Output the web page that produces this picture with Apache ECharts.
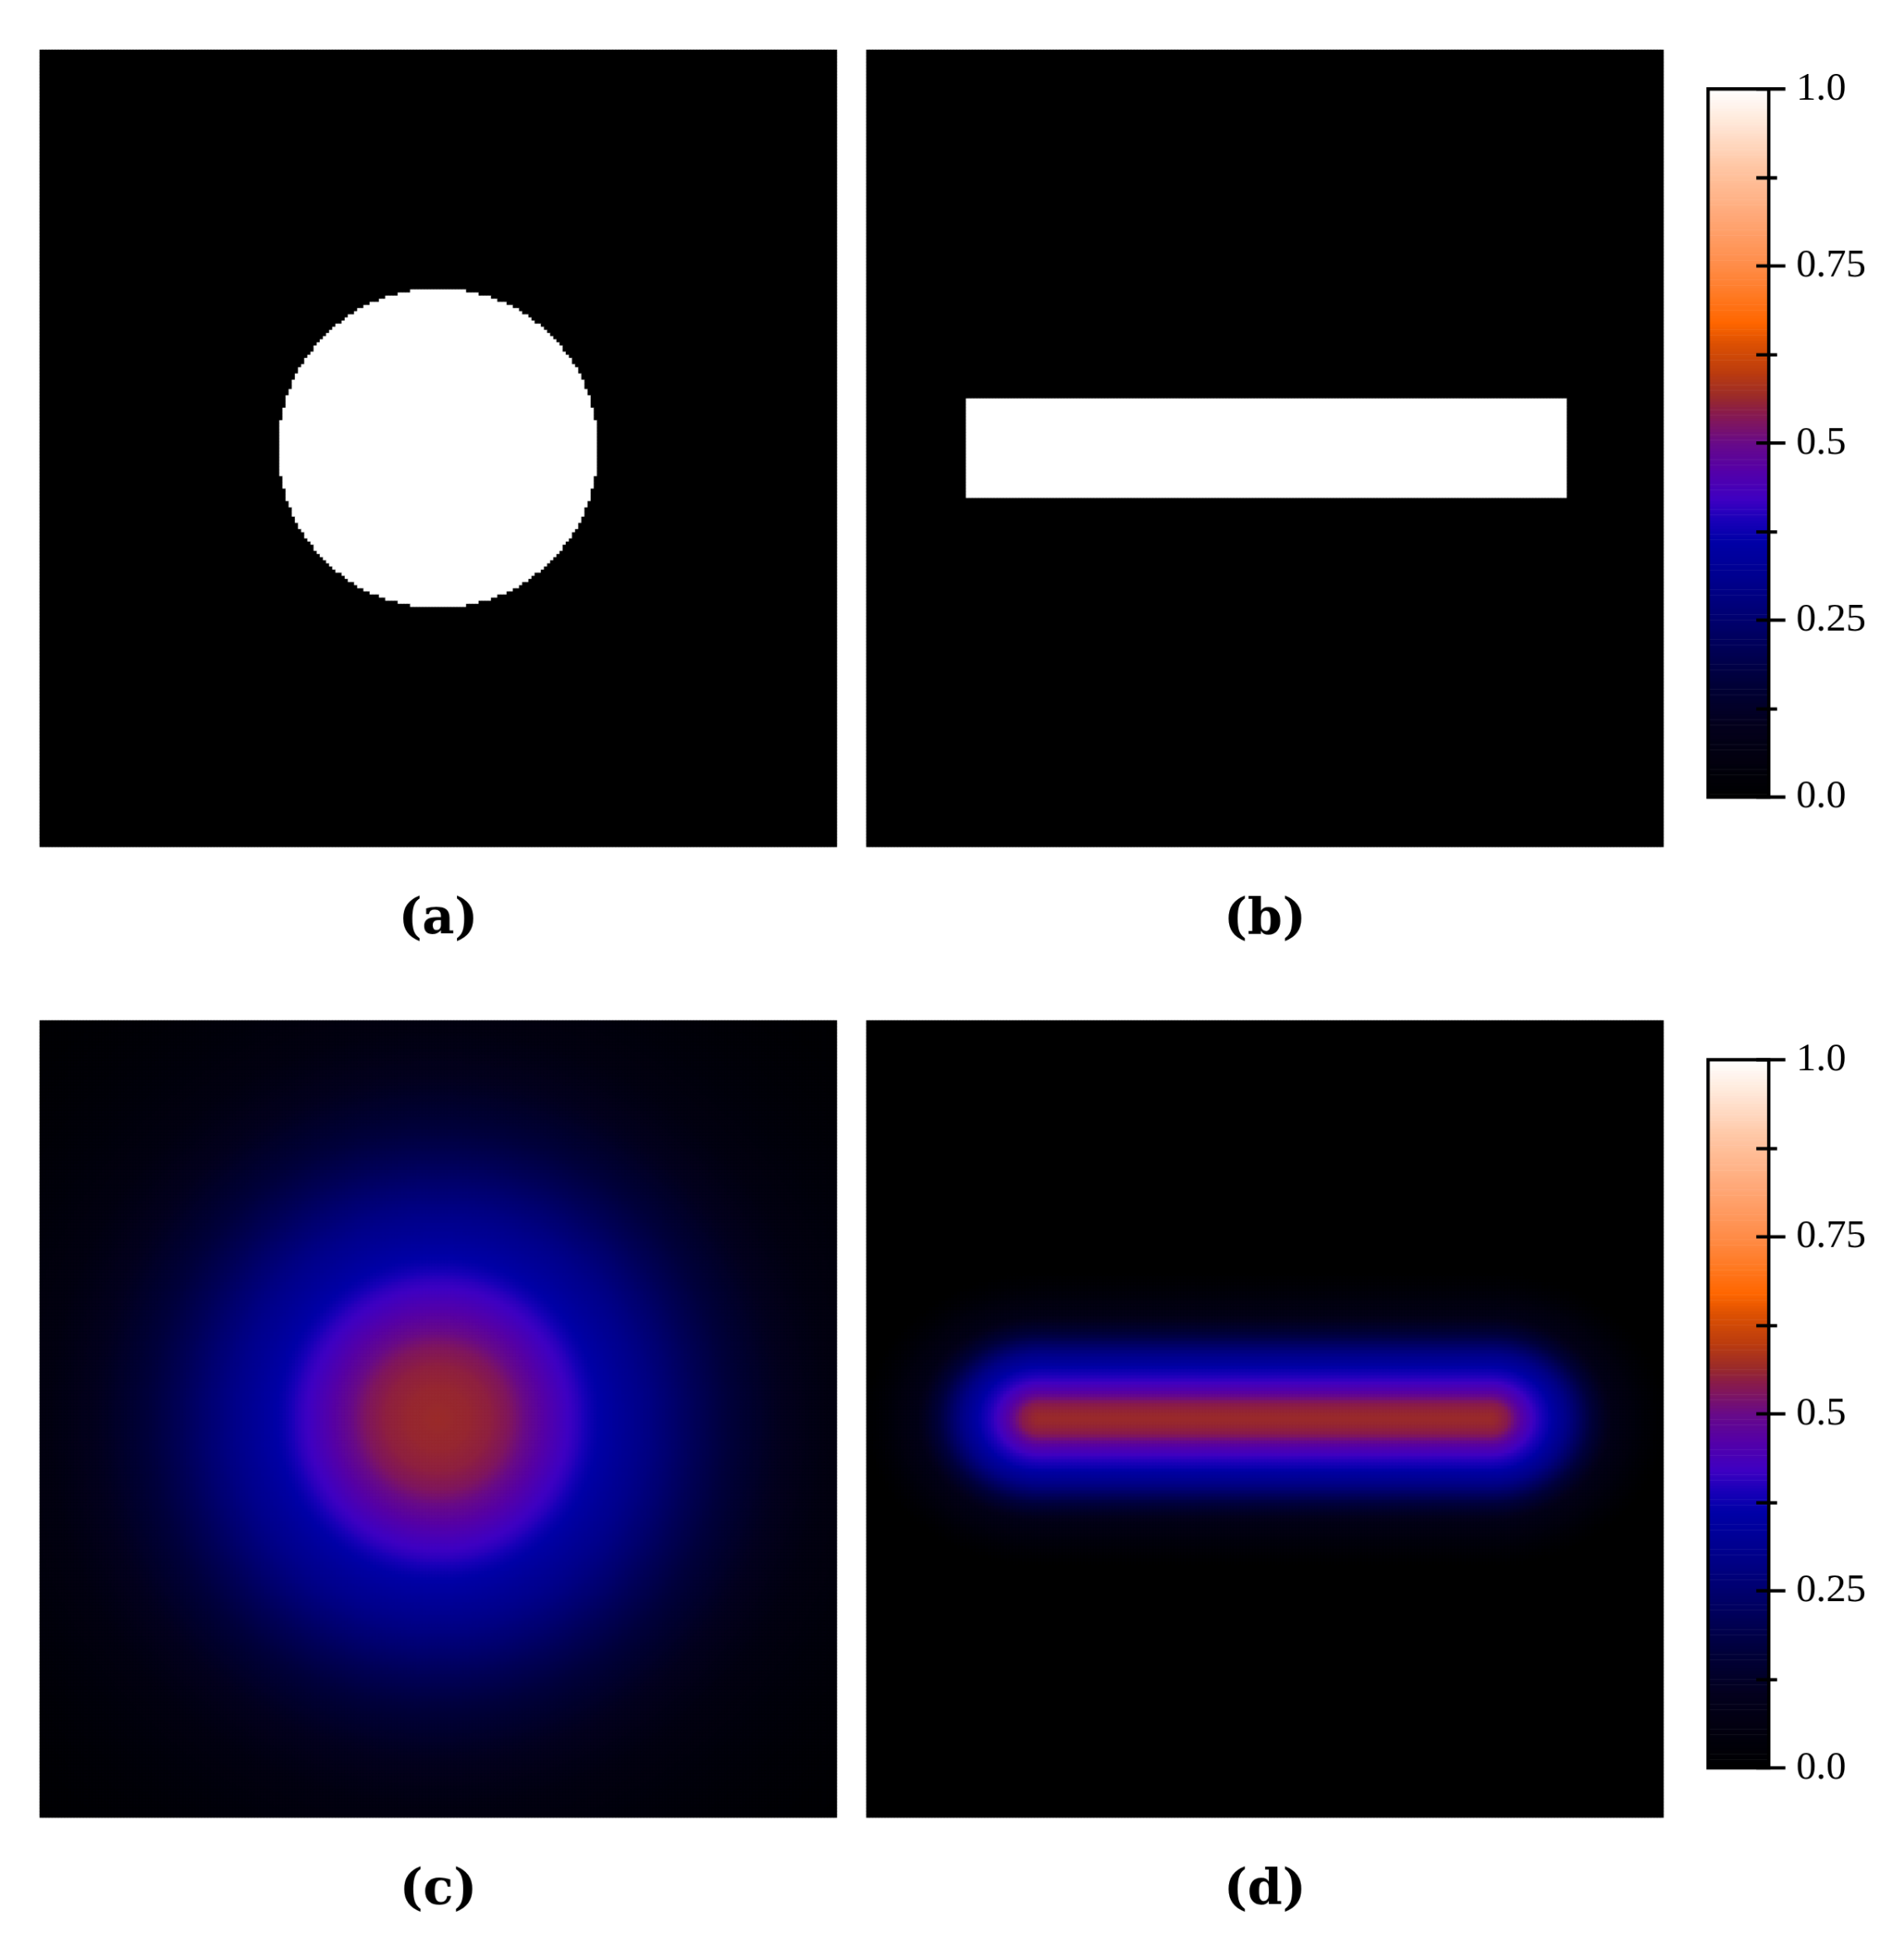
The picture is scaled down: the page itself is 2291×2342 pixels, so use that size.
<!DOCTYPE html>
<html><head><meta charset="utf-8">
<script src="https://cdn.jsdelivr.net/npm/echarts@6/dist/echarts.min.js"></script>
<style>html,body{margin:0;padding:0;background:#fff}#chart{width:2291px;height:2342px}</style>
</head><body><div id="chart"></div>
<script>
// ---------------- data (grid cells of 256 x 256 images) ----------------
const GRID_N = 256;
const panelLabels = ['(a)', '(b)', '(c)', '(d)'];

// (a) binary disk
const diskCenter = [128, 128];
const diskRadius = 51.3;

// (b) binary bar  [start, end)
const rectCols = [32, 225];
const rectRows = [112, 144];

// (c) radial profile (distance in cells -> value)
const ringRadii  = [0, 10, 17, 23, 28, 33, 40, 45, 50, 58, 67, 75, 83, 92, 100, 108, 117, 125, 140, 160, 182];
const ringValues = [0.565, 0.56, 0.55, 0.53, 0.50, 0.47, 0.43, 0.405, 0.37, 0.33, 0.29, 0.25, 0.21, 0.17, 0.14, 0.11, 0.085, 0.06, 0.04, 0.02, 0.01];

// (d) profile across the smoothed bar (distance in cells -> value)
const barRow = 128;
const barEnds = [56, 200];
const barStretch = 1.2;
const barDist   = [0, 2, 5, 9, 12.5, 16, 21, 27, 33, 38, 43, 48];
const barValues = [0.565, 0.56, 0.54, 0.46, 0.41, 0.37, 0.29, 0.17, 0.08, 0.05, 0.02, 0];

// colour bar
const cbTickValues = [0, 0.25, 0.5, 0.75, 1.0];
const cbTickLabels = ['0.0', '0.25', '0.5', '0.75', '1.0'];
const cbLevels = 256;

// colormap stops (value, colour)
const cmapStops  = [0.00, 0.10, 0.16, 0.25, 0.30, 0.36, 0.39, 0.42, 0.46, 0.50, 0.52, 0.545, 0.565, 0.60, 0.64, 0.67, 0.71, 0.75, 0.82, 0.89, 0.95, 1.00];
const cmapColors = ['#000000', '#03001c', '#000038', '#00006e', '#00008a', '#0000a6', '#1800b8', '#3e00c2', '#5400a8', '#680a88', '#78126c', '#8a1c48', '#9a2a2a', '#bc3c0e', '#dc5002', '#ff6600', '#ff7a24', '#ff8c48', '#ffa878', '#ffc6a4', '#ffe6d6', '#ffffff'];

// ---------------- helpers ----------------
function lookup(xs, ys, x) {
  if (x <= xs[0]) return ys[0];
  for (let k = 1; k < xs.length; k++) {
    if (x <= xs[k]) {
      const t = (x - xs[k - 1]) / (xs[k] - xs[k - 1]);
      return ys[k - 1] + t * (ys[k] - ys[k - 1]);
    }
  }
  return ys[ys.length - 1];
}
function hex2rgb(h) { return [parseInt(h.slice(1, 3), 16), parseInt(h.slice(3, 5), 16), parseInt(h.slice(5, 7), 16)]; }
function sampleCmap(n) {
  const out = [];
  const rgb = cmapColors.map(hex2rgb);
  for (let s = 0; s < n; s++) {
    const v = s / (n - 1);
    let k = 1;
    while (k < cmapStops.length - 1 && v > cmapStops[k]) k++;
    const t = Math.max(0, Math.min(1, (v - cmapStops[k - 1]) / (cmapStops[k] - cmapStops[k - 1])));
    const c = [0, 1, 2].map(q => Math.round(rgb[k - 1][q] + t * (rgb[k][q] - rgb[k - 1][q])));
    out.push('rgb(' + c.join(',') + ')');
  }
  return out;
}

// ---------------- build cell tables ----------------
const idx = Array.from({length: GRID_N}, (_, i) => i);
const dataA = [], dataB = [], dataC = [], dataD = [];
for (let j = 0; j < GRID_N; j++) {
  for (let i = 0; i < GRID_N; i++) {
    const cx = i + 0.5, cy = j + 0.5;
    const r = Math.hypot(cx - diskCenter[0], cy - diskCenter[1]);
    dataA.push([i, j, r <= diskRadius ? 1 : 0]);
    const inRect = i >= rectCols[0] && i < rectCols[1] && j >= rectRows[0] && j < rectRows[1];
    dataB.push([i, j, inRect ? 1 : 0]);
    dataC.push([i, j, lookup(ringRadii, ringValues, r)]);
    let dx = 0;
    if (cx < barEnds[0]) dx = (barEnds[0] - cx) / barStretch;
    else if (cx > barEnds[1]) dx = (cx - barEnds[1]) / barStretch;
    const dy = cy - barRow;
    dataD.push([i, j, lookup(barDist, barValues, Math.hypot(dx, dy))]);
  }
}
const cbData = [];
for (let k = 0; k < cbLevels; k++) cbData.push([0, k, (k + 0.5) / cbLevels]);
const cbIdx = Array.from({length: cbLevels}, (_, i) => i);

// ---------------- layout ----------------
// canvas rendered at a ratio where each image cell is exactly 4 device pixels (no seams)
const PANEL = 959;
const DPR = 4 * GRID_N / PANEL;
const snap = v => Math.round(v * DPR) / DPR;
const panelGrids = [
  {left: snap(48),   top: snap(60)},
  {left: snap(1042), top: snap(60)},
  {left: snap(48),   top: snap(1228)},
  {left: snap(1042), top: snap(1228)}
];
const cbGrids = [
  {left: 2055, top: 107, width: 73, height: 852},
  {left: 2055, top: 1275, width: 73, height: 852}
];

const grid = [], xAxis = [], yAxis = [], series = [];
const panelData = [dataA, dataB, dataC, dataD];
panelGrids.forEach((g, k) => {
  grid.push({left: g.left, top: g.top, width: PANEL, height: PANEL, containLabel: false,
    show: true, backgroundColor: '#000', borderWidth: 0});
  xAxis.push({gridIndex: k, type: 'category', data: idx, show: false});
  yAxis.push({gridIndex: k, type: 'category', data: idx, inverse: true, show: false});
  series.push({
    type: 'heatmap', xAxisIndex: xAxis.length - 1, yAxisIndex: yAxis.length - 1,
    data: panelData[k], progressive: 0, animation: false, silent: true,
    emphasis: {disabled: true}
  });
});

cbGrids.forEach((g, c) => {
  const gi = grid.length;
  grid.push({left: g.left, top: g.top, width: g.width, height: g.height, containLabel: false});
  const xi = xAxis.length;
  xAxis.push({gridIndex: gi, type: 'category', data: ['0'], show: false});
  const yi = yAxis.length;
  yAxis.push({gridIndex: gi, type: 'category', data: cbIdx, show: false});
  yAxis.push({gridIndex: gi, type: 'value', min: 0, max: 1, interval: 0.25, position: 'right', z: 10,
    axisLine: {show: false},
    axisTick: {show: true, inside: false, length: 20, lineStyle: {color: '#000', width: 4}},
    minorTick: {show: true, splitNumber: 2, length: 10, lineStyle: {color: '#000', width: 4}},
    splitLine: {show: false}, minorSplitLine: {show: false},
    axisLabel: {show: true, margin: 33, color: '#000', fontFamily: 'Liberation Serif', fontSize: 48,
      formatter: v => { const p = cbTickValues.findIndex(t => Math.abs(t - v) < 1e-6); return p >= 0 ? cbTickLabels[p] : ''; }}});
  yAxis.push({gridIndex: gi, type: 'value', min: 0, max: 1, interval: 0.125, position: 'right', z: 10,
    axisLine: {show: false},
    axisTick: {show: true, inside: true, length: 15, lineStyle: {color: '#000', width: 4}},
    splitLine: {show: false}, axisLabel: {show: false}});
  series.push({
    type: 'heatmap', xAxisIndex: xi, yAxisIndex: yi, data: cbData,
    progressive: 0, animation: false, silent: true, emphasis: {disabled: true}
  });
});

const graphic = panelGrids.map((g, k) => ({
  type: 'text',
  x: g.left + PANEL / 2,
  y: g.top + PANEL + 88,
  silent: true,
  style: {text: panelLabels[k], font: 'bold 60px "DejaVu Serif"', fill: '#000', textAlign: 'center', textVerticalAlign: 'middle'}
}));
// frames of the colour bars
cbGrids.forEach(g => graphic.push({
  type: 'rect', silent: true, z: 100,
  shape: {x: g.left, y: g.top, width: g.width, height: g.height},
  style: {fill: null, stroke: '#000', lineWidth: 4}
}));

const chart = echarts.init(document.getElementById('chart'), null, {renderer: 'canvas', devicePixelRatio: DPR});
chart.setOption({
  backgroundColor: '#ffffff',
  animation: false,
  grid, xAxis, yAxis, series, graphic,
  visualMap: {
    type: 'continuous', min: 0, max: 1, show: false,
    seriesIndex: series.map((_, i) => i),
    inRange: {color: sampleCmap(201)}
  }
});
</script>
</body></html>
